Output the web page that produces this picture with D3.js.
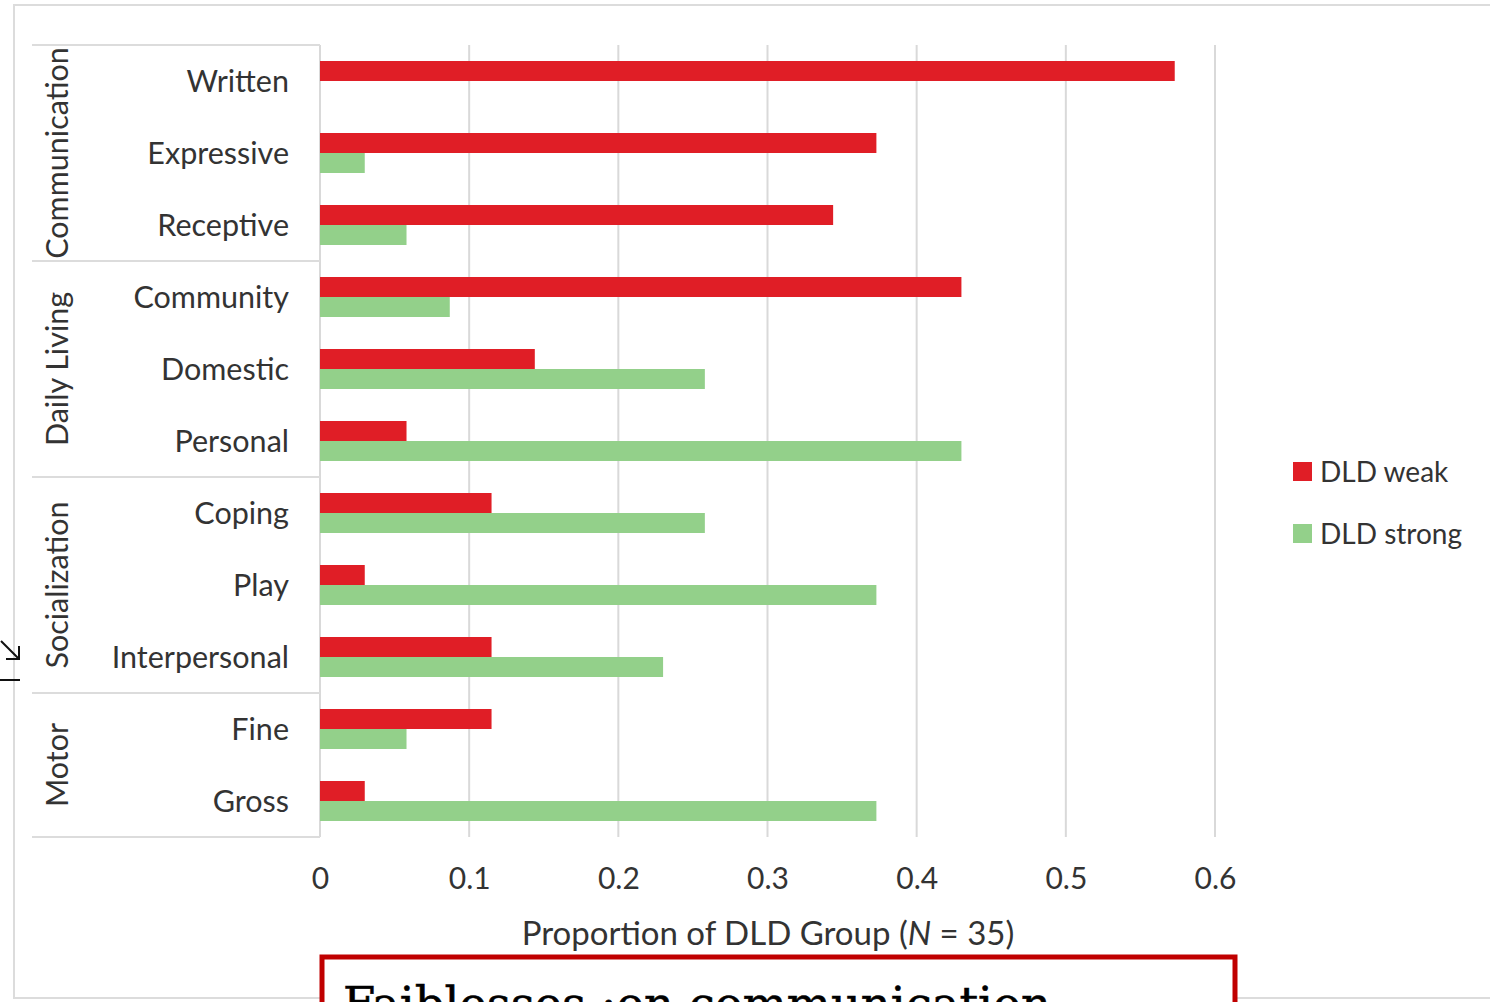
<!DOCTYPE html>
<html>
<head>
<meta charset="utf-8">
<script src="https://cdn.jsdelivr.net/npm/d3@7"></script>
<style>
  html, body { margin: 0; padding: 0; background: #fff; }
  svg { display: block; }
  text { font-family: Lato, "Open Sans", sans-serif; fill: #333; }
</style>
</head>
<body>
<svg width="1490" height="1002"></svg>
<script>
// data (proportion of DLD group, N = 35)
var categories = ["Written", "Expressive", "Receptive", "Community", "Domestic", "Personal",
                  "Coping", "Play", "Interpersonal", "Fine", "Gross"];
var weak   = [0.573, 0.373, 0.344, 0.43, 0.144, 0.058, 0.115, 0.03, 0.115, 0.115, 0.03];
var strong = [0,     0.03,  0.058, 0.087, 0.258, 0.43, 0.258, 0.373, 0.23, 0.058, 0.373];
var groups = ["Communication", "Daily Living", "Socialization", "Motor"];
var groupSizes = [3, 3, 3, 2];
var seriesNames = ["DLD weak", "DLD strong"];
var colors = ["#e01e26", "#93d08a"];
var tickValues = [0, 0.1, 0.2, 0.3, 0.4, 0.5, 0.6];

var svg = d3.select("svg");
var plotTop = 45, plotBottom = 837, plotLeft = 320;

// outer frame
svg.append("rect").attr("x", 14).attr("y", 5).attr("width", 1500).attr("height", 993)
  .attr("fill", "none").attr("stroke", "#dcdcdc").attr("stroke-width", 2);

var x = d3.scaleLinear().domain([0, 0.6]).range([plotLeft, 1215]);
var y = d3.scaleBand().domain(categories).range([plotTop, plotBottom]);
var y1 = d3.scaleBand().domain(seriesNames).range([0, y.bandwidth()]).paddingOuter(0.8);

// grid
svg.append("g").selectAll("line").data(tickValues.slice(1)).enter().append("line")
  .attr("x1", function(d) { return x(d); }).attr("x2", function(d) { return x(d); })
  .attr("y1", plotTop).attr("y2", plotBottom)
  .attr("stroke", "#d9d9d9").attr("stroke-width", 2);

// category table lines
svg.append("line").attr("x1", plotLeft).attr("x2", plotLeft).attr("y1", plotTop).attr("y2", plotBottom)
  .attr("stroke", "#d9d9d9").attr("stroke-width", 2);
var cum = 0, bounds = [0];
groupSizes.forEach(function(n) { cum += n; bounds.push(cum); });
svg.append("g").selectAll("line").data(bounds).enter().append("line")
  .attr("x1", 32).attr("x2", plotLeft)
  .attr("y1", function(i) { return plotTop + i * y.step(); })
  .attr("y2", function(i) { return plotTop + i * y.step(); })
  .attr("stroke", "#dcdcdc").attr("stroke-width", 2);

// bars
var rows = categories.map(function(c, i) { return {cat: c, vals: [weak[i], strong[i]]}; });
var row = svg.append("g").selectAll("g").data(rows).enter().append("g")
  .attr("transform", function(d) { return "translate(0," + y(d.cat) + ")"; });
row.selectAll("rect").data(function(d) { return d.vals; }).enter().append("rect")
  .attr("x", plotLeft)
  .attr("y", function(d, i) { return y1(seriesNames[i]); })
  .attr("width", function(d) { return x(d) - x(0); })
  .attr("height", y1.bandwidth())
  .attr("fill", function(d, i) { return colors[i]; });

// category labels
svg.append("g").selectAll("text").data(categories).enter().append("text")
  .attr("x", 289).attr("y", function(d) { return y(d) + y.bandwidth() / 2; })
  .attr("dy", "0.35em").attr("text-anchor", "end")
  .style("font-size", "30.5px").text(function(d) { return d; });

// group labels
svg.append("g").selectAll("text").data(groups).enter().append("text")
  .attr("transform", function(d, i) {
    var cy = plotTop + (bounds[i] + bounds[i + 1]) / 2 * y.step();
    return "translate(57," + cy + ") rotate(-90)";
  })
  .attr("dy", "0.35em").attr("text-anchor", "middle")
  .style("font-size", "30.5px").text(function(d) { return d; });

// x axis
var xAxis = d3.axisBottom(x).tickValues(tickValues).tickSize(0).tickPadding(31)
  .tickFormat(function(d) { return d === 0 ? "0" : d.toFixed(1); });
var ax = svg.append("g").attr("transform", "translate(0," + plotBottom + ")").call(xAxis);
ax.select(".domain").remove();
ax.selectAll("text").style("font-size", "30px").style("font-family", "Lato, sans-serif").attr("fill", "#333");

var title = svg.append("text").attr("x", 768).attr("y", 945).attr("text-anchor", "middle")
  .style("font-size", "33px");
title.append("tspan").text("Proportion of DLD Group (");
title.append("tspan").style("font-style", "italic").text("N");
title.append("tspan").text(" = 35)");

// legend
var lg = svg.append("g").selectAll("g").data(seriesNames).enter().append("g")
  .attr("transform", function(d, i) { return "translate(1293," + (462 + i * 62) + ")"; });
lg.append("rect").attr("width", 19).attr("height", 19)
  .attr("fill", function(d, i) { return colors[i]; });
lg.append("text").attr("x", 27).attr("y", 10).attr("dy", "0.35em")
  .style("font-size", "28px").text(function(d) { return d; });

// resize marker at left edge
svg.append("path").attr("d", "M1,641 L19,659 M6,659 L19,659 L19,646 M0,680 L20,680")
  .attr("fill", "none").attr("stroke", "#111").attr("stroke-width", 2);

// overlay box cut off at the bottom
svg.append("rect").attr("x", 322).attr("y", 957).attr("width", 913).attr("height", 60)
  .attr("fill", "#fff").attr("stroke", "#c00000").attr("stroke-width", 5);
svg.append("text").attr("x", 343).attr("y", 1020)
  .style("font-family", "'DejaVu Serif', serif").style("font-size", "46.5px").style("fill", "#000")
  .style("stroke", "#000").style("stroke-width", "0.6px")
  .text("Faiblesses :en communication");
</script>
</body>
</html>
